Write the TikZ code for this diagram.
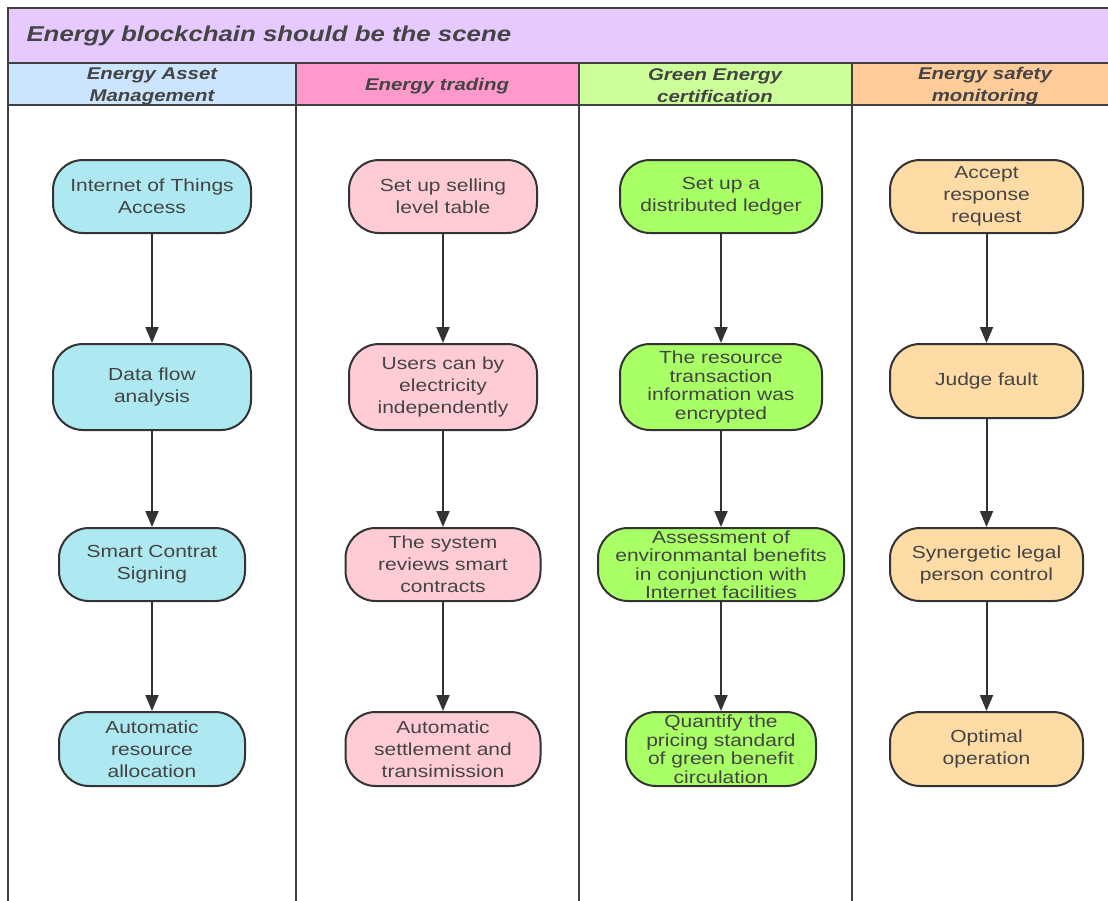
\documentclass[tikz,border=0pt]{standalone}
\usepackage{fontspec}
\setmainfont[FakeStretch=1.2]{Liberation Sans}
\usetikzlibrary{arrows.meta}
\definecolor{titlefill}{HTML}{E6CAFF}
\definecolor{hblue}{HTML}{CCE5FF}
\definecolor{hpink}{HTML}{FF99CC}
\definecolor{hgreen}{HTML}{CCFF99}
\definecolor{horange}{HTML}{FFCC99}
\definecolor{nblue}{HTML}{AEE8F0}
\definecolor{npink}{HTML}{FFCCD6}
\definecolor{ngreen}{HTML}{A8FF66}
\definecolor{norange}{HTML}{FFDBA6}
\definecolor{ink}{HTML}{333333}
\definecolor{txt}{HTML}{444444}
\definecolor{framec}{HTML}{404040}
\tikzset{
  frameline/.style={draw=framec, line width=2pt},
  stepbox/.style={draw=ink, line width=2pt, rounded corners=30pt, align=center,
    text=txt, inner sep=0pt, font=\fontsize{17.5}{22}\selectfont},
  tight/.style={font=\fontsize{17.5}{18.5}\selectfont},
  flow/.style={draw=ink, line width=2pt, -{Triangle[length=16pt,width=13pt]}},
  headtext/.style={text=txt, align=center, font=\fontsize{17}{22}\selectfont\bfseries\itshape}
}
\begin{document}
\begin{tikzpicture}[x=1pt,y=-1pt]
\useasboundingbox (0,0) rectangle (1108,900);
% title band and header band
\fill[titlefill] (8,8) rectangle (1108,63);
\fill[hblue] (8,63) rectangle (296,105);
\fill[hpink] (296,63) rectangle (579,105);
\fill[hgreen] (579,63) rectangle (852,105);
\fill[horange] (852,63) rectangle (1108,105);
\draw[frameline] (1110,8) -- (8,8) -- (8,902);
\draw[frameline] (8,63) -- (1110,63);
\draw[frameline] (8,105) -- (1110,105);
\draw[frameline] (296,63) -- (296,902);
\draw[frameline] (579,63) -- (579,902);
\draw[frameline] (852,63) -- (852,902);
\node[anchor=west, text=txt, font=\fontsize{21.5}{26}\selectfont\bfseries\itshape] (title) at (23,36) {Energy blockchain should be the scene};
\node[headtext] (h1) at (152,86) {Energy Asset\\Management};
\node[headtext] (h2) at (437,86) {Energy trading};
\node[headtext] (h3) at (715,86) {Green Energy\\certification};
\node[headtext] (h4) at (985,86) {Energy safety\\monitoring};
% column 1
\node[stepbox, fill=nblue, minimum width=198pt, minimum height=73pt] (a1) at (152,196.5) {Internet of Things\\Access};
\node[stepbox, fill=nblue, minimum width=198pt, minimum height=86pt] (a2) at (152,387) {Data flow\\analysis};
\node[stepbox, fill=nblue, minimum width=186pt, minimum height=73pt] (a3) at (152,564.5) {Smart Contrat\\Signing};
\node[stepbox, fill=nblue, minimum width=186pt, minimum height=74pt] (a4) at (152,749) {Automatic\\resource\\allocation};
% column 2
\node[stepbox, fill=npink, minimum width=188pt, minimum height=73pt] (b1) at (443,196.5) {Set up selling\\level table};
\node[stepbox, fill=npink, minimum width=188pt, minimum height=86pt] (b2) at (443,387) {Users can by\\electricity\\independently};
\node[stepbox, fill=npink, minimum width=195pt, minimum height=73pt] (b3) at (443,564.5) {The system\\reviews smart\\contracts};
\node[stepbox, fill=npink, minimum width=195pt, minimum height=74pt] (b4) at (443,749) {Automatic\\settlement and\\transimission};
% column 3
\node[stepbox, fill=ngreen, minimum width=202pt, minimum height=73pt] (c1) at (721,196.5) {Set up a\\distributed ledger};
\node[stepbox, tight, fill=ngreen, minimum width=202pt, minimum height=86pt] (c2) at (721,387) {The resource\\transaction\\information was\\encrypted};
\node[stepbox, tight, fill=ngreen, minimum width=246pt, minimum height=73pt] (c3) at (721,564.5) {Assessment of\\environmantal benefits\\in conjunction with\\Internet facilities};
\node[stepbox, tight, fill=ngreen, minimum width=190pt, minimum height=74pt] (c4) at (721,749) {Quantify the\\pricing standard\\of green benefit\\circulation};
% column 4
\node[stepbox, fill=norange, minimum width=193pt, minimum height=73pt] (d1) at (986.5,196.5) {Accept\\response\\request};
\node[stepbox, fill=norange, minimum width=193pt, minimum height=74pt] (d2) at (986.5,381) {Judge fault};
\node[stepbox, fill=norange, minimum width=193pt, minimum height=73pt] (d3) at (986.5,564.5) {Synergetic legal\\person control};
\node[stepbox, fill=norange, minimum width=193pt, minimum height=74pt] (d4) at (986.5,749) {Optimal\\operation};
% arrows
\foreach \p/\q in {a1/a2,a2/a3,a3/a4,b1/b2,b2/b3,b3/b4,c1/c2,c2/c3,c3/c4,d1/d2,d2/d3,d3/d4}
  \draw[flow] (\p.south) -- (\q.north);
\end{tikzpicture}
\end{document}
